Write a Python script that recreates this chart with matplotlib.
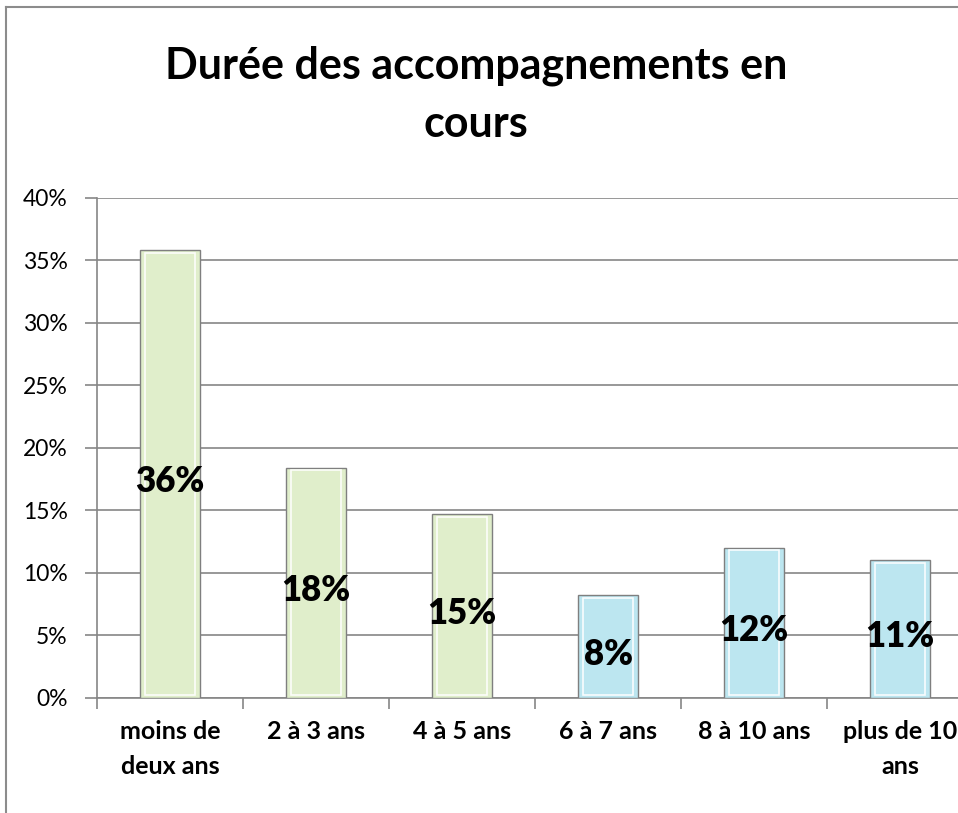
import matplotlib.pyplot as plt
from matplotlib.patches import Rectangle
from matplotlib.lines import Line2D

categories = ["moins de\ndeux ans", "2 à 3 ans", "4 à 5 ans", "6 à 7 ans", "8 à 10 ans", "plus de 10\nans"]
values = [0.358, 0.184, 0.147, 0.082, 0.120, 0.110]
labels = ["36%", "18%", "15%", "8%", "12%", "11%"]
colors = ["#e0eecb", "#e0eecb", "#e0eecb", "#bce6f0", "#bce6f0", "#bce6f0"]

plt.rcParams['font.family'] = ['Lato', 'DejaVu Sans']

fig = plt.figure(figsize=(9.58, 8.13), dpi=100)
ax = fig.add_axes([0.1013, 0.1415, 0.9144, 0.615])

x = list(range(len(categories)))
bars = ax.bar(x, values, width=0.41, color=colors, edgecolor="#7f7f7f", linewidth=1.0, zorder=3)

# light bevel inside each bar
for b, c in zip(bars, colors):
    bx, bw, bh = b.get_x(), b.get_width(), b.get_height()
    ax.add_patch(Rectangle((bx + bw * 0.08, 0.002), bw * 0.84, bh - 0.004,
                           facecolor=c, edgecolor="white", linewidth=1.2, alpha=0.9, zorder=4))

for xi, v, lab in zip(x, values, labels):
    ax.text(xi, v / 2 - 0.006, lab, ha="center", va="center", fontsize=25, fontweight="heavy", zorder=5)

ax.set_xlim(-0.5, 5.5)
ax.set_ylim(0, 0.40)
ax.set_yticks([i * 0.05 for i in range(9)])
ax.set_yticklabels(["%d%%" % (i * 5) for i in range(9)], fontsize=16.5)
ax.yaxis.grid(True, color="#868686", linewidth=1.2, zorder=0)
ax.set_xticks(x)
ax.set_xticklabels(categories, fontsize=18, fontweight="bold", linespacing=1.6)
ax.set_xticks([i - 0.5 for i in range(7)], minor=True)
ax.tick_params(axis="x", which="major", length=0, pad=16)
ax.tick_params(axis="x", which="minor", length=8, color="#868686", width=1.2)
ax.tick_params(axis="y", length=9, color="#868686", width=1.2, pad=12)
for s in ["top", "right"]:
    ax.spines[s].set_visible(False)
for s in ["left", "bottom"]:
    ax.spines[s].set_color("#868686")
    ax.spines[s].set_linewidth(1.2)

fig.text(0.497, 0.883, "Durée des accompagnements en\ncours", ha="center", va="center",
         fontsize=31, fontweight="bold", linespacing=1.55)

# chart frame (left and top edges visible)
fig.add_artist(Line2D([0.006, 0.006], [0, 0.991], transform=fig.transFigure, color="#8c8c8c", linewidth=1.5))
fig.add_artist(Line2D([0.006, 1.0], [0.991, 0.991], transform=fig.transFigure, color="#8c8c8c", linewidth=1.5))

fig.savefig("out.png", dpi=100)
